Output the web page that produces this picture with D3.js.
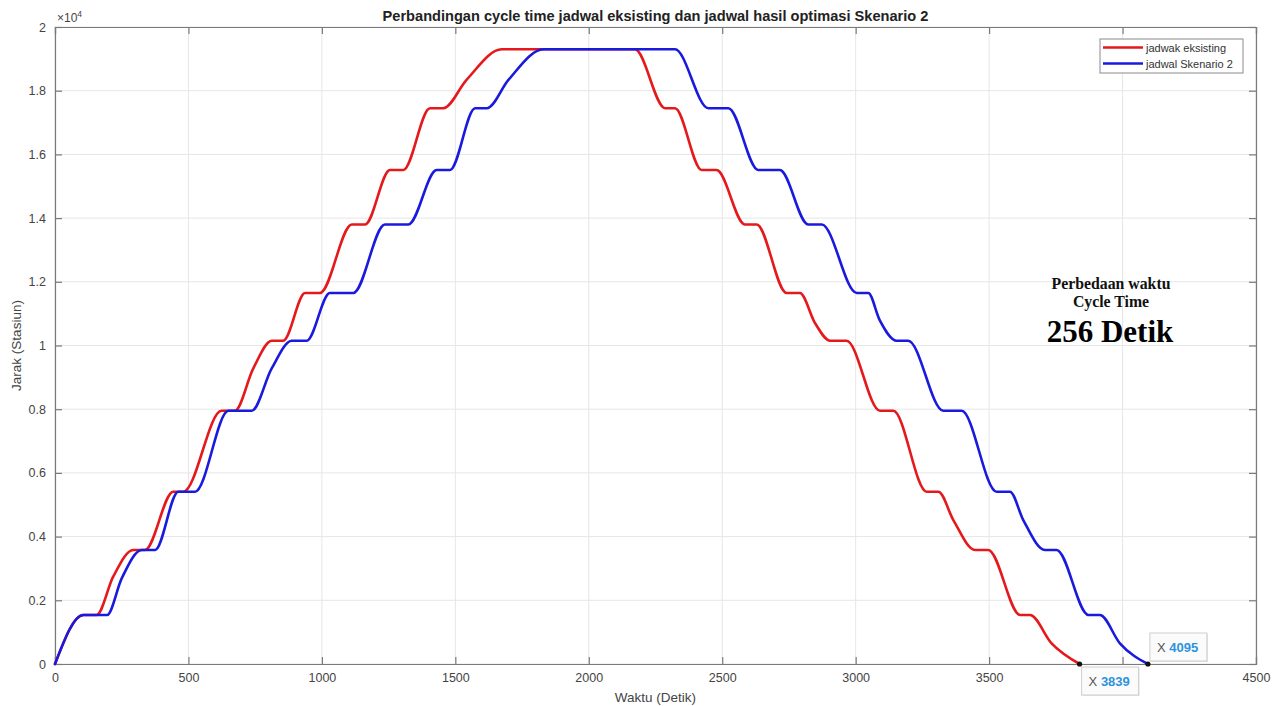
<!DOCTYPE html>
<html>
<head>
<meta charset="utf-8">
<script src="https://cdn.jsdelivr.net/npm/d3@7"></script>
<style>
  html, body { margin: 0; padding: 0; background: #fff; }
  svg { display: block; }
</style>
</head>
<body>
<svg id="chart" width="1286" height="706"></svg>
<script>
// ---- data (time in seconds, distance in metres) ----
const existingTime = [0, 106, 156, 218, 293, 337, 443, 481, 624, 674, 743, 812, 855, 937, 993, 1112, 1162, 1255, 1305, 1405, 1455, 1542, 1674, 2173, 2286, 2323, 2423, 2479, 2585, 2629, 2741, 2791, 2848, 2904, 2966, 3091, 3141, 3266, 3310, 3366, 3447, 3497, 3616, 3653, 3734, 3839];
const existingDist = [0, 1540, 1540, 2740, 3580, 3580, 5410, 5410, 7950, 7950, 9280, 10150, 10150, 11650, 11650, 13800, 13800, 15510, 15510, 17450, 17450, 18340, 19300, 19300, 17450, 17450, 15510, 15510, 13800, 13800, 11650, 11650, 10700, 10150, 10150, 7950, 7950, 5410, 5410, 4520, 3580, 3580, 1540, 1540, 650, 0];

const skenarioTime = [0, 106, 195, 250, 325, 375, 462, 525, 650, 737, 812, 887, 943, 1030, 1118, 1236, 1324, 1430, 1480, 1574, 1618, 1699, 1830, 2323, 2448, 2523, 2635, 2716, 2822, 2873, 3004, 3047, 3090, 3154, 3197, 3328, 3397, 3528, 3578, 3628, 3709, 3753, 3872, 3915, 3990, 4095];
const skenarioDist = [0, 1540, 1540, 2690, 3580, 3580, 5410, 5410, 7950, 7950, 9280, 10150, 10150, 11650, 11650, 13800, 13800, 15510, 15510, 17450, 17450, 18340, 19300, 19300, 17450, 17450, 15510, 15510, 13800, 13800, 11650, 11650, 10800, 10150, 10150, 7950, 7950, 5410, 5410, 4520, 3580, 3580, 1540, 1540, 650, 0];

const seriesNames = ["jadwak eksisting", "jadwal Skenario 2"];
const xTicks = [0, 500, 1000, 1500, 2000, 2500, 3000, 3500, 4000, 4500];
// "4000" is hidden under the data tip in the reference
const xTickLabels = ["0", "500", "1000", "1500", "2000", "2500", "3000", "3500", "", "4500"];
const yTicks = [0, 2000, 4000, 6000, 8000, 10000, 12000, 14000, 16000, 18000, 20000];
const yTickLabels = ["0", "0.2", "0.4", "0.6", "0.8", "1", "1.2", "1.4", "1.6", "1.8", "2"];
const endTimes = [3839, 4095];
const titleText = "Perbandingan cycle time jadwal eksisting dan jadwal hasil optimasi Skenario 2";
const xLabel = "Waktu (Detik)";
const yLabel = "Jarak (Stasiun)";
const noteLines = ["Perbedaan waktu", "Cycle Time", "256 Detik"];

// ---- layout ----
const svg = d3.select("#chart");
const m = { left: 55, right: 1256, top: 27, bottom: 664 };
const x = d3.scaleLinear().domain([0, 4500]).range([m.left, m.right]);
const y = d3.scaleLinear().domain([0, 20000]).range([m.bottom, m.top]);
const font = "'Liberation Sans', Arial, Helvetica, sans-serif";
const axisCol = "#7a7a7a";
const textCol = "#444";

// grid
const grid = svg.append("g");
grid.selectAll("line.gx").data(xTicks).join("line")
  .attr("x1", d => x(d)).attr("x2", d => x(d))
  .attr("y1", m.top).attr("y2", m.bottom)
  .attr("stroke", "#e6e6e6").attr("stroke-width", 1);
grid.selectAll("line.gy").data(yTicks).join("line")
  .attr("x1", m.left).attr("x2", m.right)
  .attr("y1", d => y(d)).attr("y2", d => y(d))
  .attr("stroke", "#e6e6e6").attr("stroke-width", 1);

// axes
const xAxis = d3.axisBottom(x).tickValues(xTicks).tickSize(-7).tickPadding(9)
  .tickFormat((d, i) => xTickLabels[i]);
const yAxis = d3.axisLeft(y).tickValues(yTicks).tickSize(-7).tickPadding(9)
  .tickFormat((d, i) => yTickLabels[i]);
const xTop = d3.axisTop(x).tickValues(xTicks).tickSize(-7).tickFormat("");
const yRight = d3.axisRight(y).tickValues(yTicks).tickSize(-7).tickFormat("");

function styleAxis(g) {
  g.select(".domain").attr("stroke", axisCol).attr("stroke-width", 1.2);
  g.selectAll(".tick line").attr("stroke", axisCol).attr("stroke-width", 1.2);
  g.selectAll(".tick text").attr("fill", textCol).attr("font-size", 12.5).attr("font-family", font);
}
svg.append("g").attr("transform", `translate(0,${m.bottom})`).call(xAxis).call(styleAxis);
svg.append("g").attr("transform", `translate(${m.left},0)`).call(yAxis).call(styleAxis);
svg.append("g").attr("transform", `translate(0,${m.top})`).call(xTop).call(styleAxis);
svg.append("g").attr("transform", `translate(${m.right},0)`).call(yRight).call(styleAxis);

// exponent label
const exp = svg.append("text").attr("x", 57).attr("y", 22)
  .attr("font-family", font).attr("font-size", 12).attr("fill", textCol);
exp.append("tspan").text("×10");
exp.append("tspan").attr("dy", -5).attr("font-size", 8.5).text("4");

// title & labels
svg.append("text").attr("x", (m.left + m.right) / 2).attr("y", 21)
  .attr("text-anchor", "middle").attr("font-family", font).attr("font-weight", "bold")
  .attr("font-size", 14.6).attr("fill", "#222").text(titleText);
svg.append("text").attr("x", (m.left + m.right) / 2).attr("y", 702)
  .attr("text-anchor", "middle").attr("font-family", font).attr("font-size", 13.5)
  .attr("fill", textCol).text(xLabel);
svg.append("text").attr("transform", `translate(21,${(m.top + m.bottom) / 2}) rotate(-90)`)
  .attr("text-anchor", "middle").attr("font-family", font).attr("font-size", 13.5)
  .attr("fill", textCol).text(yLabel);

// lines
const colors = ["#e5191c", "#1a1ade"];
const series = [
  existingTime.map((t, i) => [t, existingDist[i]]),
  skenarioTime.map((t, i) => [t, skenarioDist[i]])
];
const line = d3.line().x(d => x(d[0])).y(d => y(d[1])).curve(d3.curveMonotoneX);
svg.append("g").selectAll("path").data(series).join("path")
  .attr("d", line).attr("fill", "none")
  .attr("stroke", (d, i) => colors[i]).attr("stroke-width", 2.6)
  .attr("stroke-linejoin", "round").attr("stroke-linecap", "round");

// legend
const lg = svg.append("g");
lg.append("rect").attr("x", 1100).attr("y", 39).attr("width", 143).attr("height", 34)
  .attr("fill", "#fff").attr("stroke", "#8a8a8a").attr("stroke-width", 1);
seriesNames.forEach((n, i) => {
  const yy = 47.5 + i * 16;
  lg.append("line").attr("x1", 1103).attr("x2", 1143).attr("y1", yy).attr("y2", yy)
    .attr("stroke", colors[i]).attr("stroke-width", 2.6);
  lg.append("text").attr("x", 1146).attr("y", yy + 4).attr("font-family", font)
    .attr("font-size", 11).attr("fill", "#333").text(n);
});

// annotation
const serif = "'Liberation Serif', 'Times New Roman', serif";
svg.append("text").attr("x", 1111).attr("y", 289).attr("text-anchor", "middle")
  .attr("font-family", serif).attr("font-weight", "bold").attr("font-size", 15.8)
  .attr("fill", "#111").text(noteLines[0]);
svg.append("text").attr("x", 1111).attr("y", 307).attr("text-anchor", "middle")
  .attr("font-family", serif).attr("font-weight", "bold").attr("font-size", 15.8)
  .attr("fill", "#111").text(noteLines[1]);
svg.append("text").attr("x", 1110).attr("y", 342).attr("text-anchor", "middle")
  .attr("font-family", serif).attr("font-weight", "bold").attr("font-size", 31)
  .attr("fill", "#000").text(noteLines[2]);

// data tips
const tipPos = [ {dx: 2, dy: 3}, {dx: 2, dy: -31} ];
endTimes.forEach((t, i) => {
  const px = x(t), py = y(0);
  const g = svg.append("g");
  const bx = px + tipPos[i].dx, by = py + tipPos[i].dy;
  g.append("rect").attr("x", bx + 1).attr("y", by + 1).attr("width", 57).attr("height", 28)
    .attr("fill", "#e4e4e4");
  g.append("rect").attr("x", bx).attr("y", by).attr("width", 57).attr("height", 28)
    .attr("fill", "#fbfbfb").attr("stroke", "#cfcfcf").attr("stroke-width", 1);
  const tx = g.append("text").attr("x", bx + 7).attr("y", by + 19)
    .attr("font-family", font).attr("font-size", 13);
  tx.append("tspan").attr("fill", "#555").text("X ");
  tx.append("tspan").attr("fill", "#2d93dc").attr("font-weight", "bold").text(t);
  svg.append("circle").attr("cx", px).attr("cy", py).attr("r", 2.6).attr("fill", "#111");
});
</script>
</body>
</html>
